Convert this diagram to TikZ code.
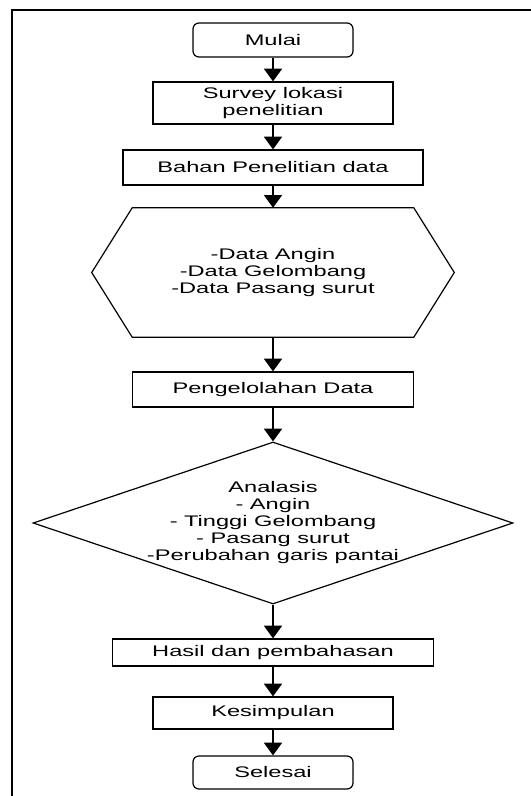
\documentclass[tikz,border=0pt]{standalone}
\usepackage{fontspec}
\setmainfont[FakeStretch=1.54]{Liberation Sans}
\usetikzlibrary{shapes.geometric,arrows.meta}

\tikzset{
  kotak/.style={draw,line width=0.9pt,inner sep=0pt,align=center},
  terminal/.style={kotak,rounded corners=4.5pt,minimum width=120pt},
  panah/.style={line width=1.1pt,-{Triangle[width=13.5pt,length=9.5pt]}}
}

\begin{document}
\begin{tikzpicture}[x=0.75pt,y=0.75pt,font=\fontsize{11.5}{12.75}\selectfont]
      \useasboundingbox (0,0) rectangle (531,-796);
      \draw[line width=1.7pt] (531,-10) -- (12,-10) -- (12,-796);
      % langkah-langkah
      \node[terminal,minimum height=25.5pt] (mulai) at (273,-40) {Mulai};
      \node[kotak,minimum width=180pt,minimum height=31.5pt] (survey) at (273,-103) {Survey lokasi\\penelitian};
      \node[kotak,minimum width=225pt,minimum height=26.25pt] (bahan) at (273,-167.5) {Bahan Penelitian data};
      \node[align=center,inner sep=0pt,minimum width=210.75pt,minimum height=96.75pt] (data) at (273,-272.5) {-Data Angin\\-Data Gelombang\\-Data Pasang surut};
      \draw[line width=0.9pt] (data.north west) -- (data.north east) -- ([xshift=30.4pt]data.east)
        -- (data.south east) -- (data.south west) -- ([xshift=-30.4pt]data.west) -- cycle;
      \node[kotak,minimum width=210.75pt,minimum height=26.25pt] (olah) at (273,-389.5) {Pengelolahan Data};
      \node[diamond,draw,line width=0.9pt,inner sep=0pt,minimum width=360pt,minimum height=121.5pt] (analisis) at (273,-523) {};
      \node[align=center,inner sep=0pt] (analisistxt) at (analisis.center) {Analasis\\- Angin\\- Tinggi Gelombang\\- Pasang surut\\-Perubahan garis pantai};
      \node[kotak,minimum width=240.75pt,minimum height=20.25pt] (hasil) at (273,-652.5) {Hasil dan pembahasan};
      \node[kotak,minimum width=180pt,minimum height=24pt] (simpul) at (273,-713) {Kesimpulan};
      \node[terminal,minimum height=24.75pt] (selesai) at (273,-772.5) {Selesai};
      % panah
      \draw[panah] (mulai) -- (survey);
      \draw[panah] (survey) -- (bahan);
      \draw[panah] (bahan) -- (data);
      \draw[panah] (data) -- (olah);
      \draw[panah] (olah) -- (analisis);
      \draw[panah] (analisis) -- (hasil);
      \draw[panah] (hasil) -- (simpul);
      \draw[panah] (simpul) -- (selesai);
    \end{tikzpicture}
\end{document}
